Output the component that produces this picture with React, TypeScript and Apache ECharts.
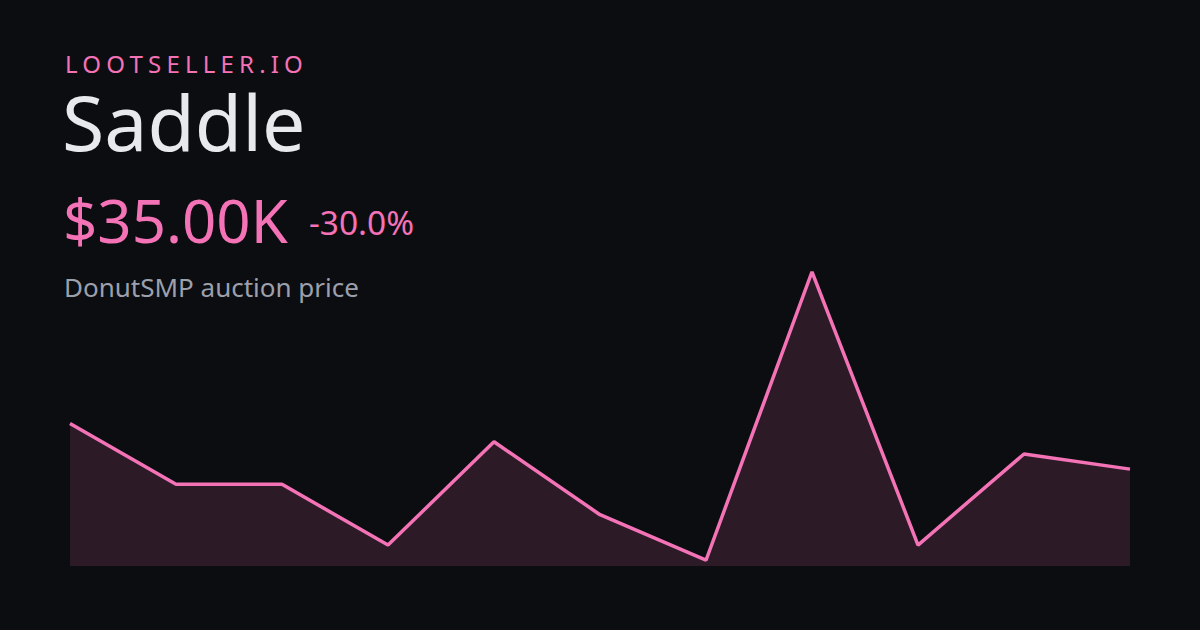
import React, { useEffect, useRef } from "react";
import * as echarts from "echarts";

const brand = "LOOTSELLER.IO";
const itemName = "Saddle";
const priceLabel = "$35.00K";
const changeLabel = "-30.0%";
const subtitle = "DonutSMP auction price";

const days = ["1", "2", "3", "4", "5", "6", "7", "8", "9", "10", "11"];
const prices = [50, 30, 30, 10, 44, 20, 5, 100, 10, 40, 35];
const yMin = 3.1;
const yMax = 101.9;

const PINK = "#f472b6";
const BG = "#0c0d10";

export default function App() {
  const ref = useRef<HTMLDivElement>(null);
  useEffect(() => {
    if (!ref.current) return;
    const chart = echarts.init(ref.current, null, { renderer: "svg", width: 1200, height: 630 });
    const font = "'Noto Sans', 'Open Sans', sans-serif";
    chart.setOption({
      animation: false,
      backgroundColor: BG,
      grid: { left: 70, right: 70, top: 266, bottom: 64 },
      xAxis: { type: "category", data: days, boundaryGap: false, show: false },
      yAxis: { type: "value", min: yMin, max: yMax, show: false },
      series: [
        {
          type: "line",
          data: prices,
          symbol: "none",
          lineStyle: { color: PINK, width: 3.5 },
          areaStyle: { color: "rgba(244,114,182,0.2)", origin: "start" },
        },
      ],
      graphic: [
        {
          type: "text",
          left: 65,
          top: 51,
          style: { text: brand, fill: PINK, font: `400 24px ${font}`, lineHeight: 24 },
        },
        {
          type: "text",
          left: 62,
          top: 83,
          style: { text: itemName, fill: "#e8e9ed", font: `400 77px ${font}` },
        },
        {
          type: "text",
          left: 63,
          top: 190,
          style: { text: priceLabel, fill: PINK, font: `400 60px ${font}` },
        },
        {
          type: "text",
          left: 309,
          top: 205,
          style: { text: changeLabel, fill: PINK, font: `400 33.5px ${font}` },
        },
        {
          type: "text",
          left: 64,
          top: 274,
          style: { text: subtitle, fill: "#9ca0ad", font: `400 26px ${font}` },
        },
      ],
    });
    const texts = ref.current.querySelectorAll("text");
    texts.forEach((t) => {
      if (t.textContent === brand) t.setAttribute("letter-spacing", "5.2");
    });
    return () => chart.dispose();
  }, []);
  return (
    <div
      ref={ref}
      style={{ position: "fixed", left: 0, top: 0, width: 1200, height: 630, background: BG }}
    />
  );
}
